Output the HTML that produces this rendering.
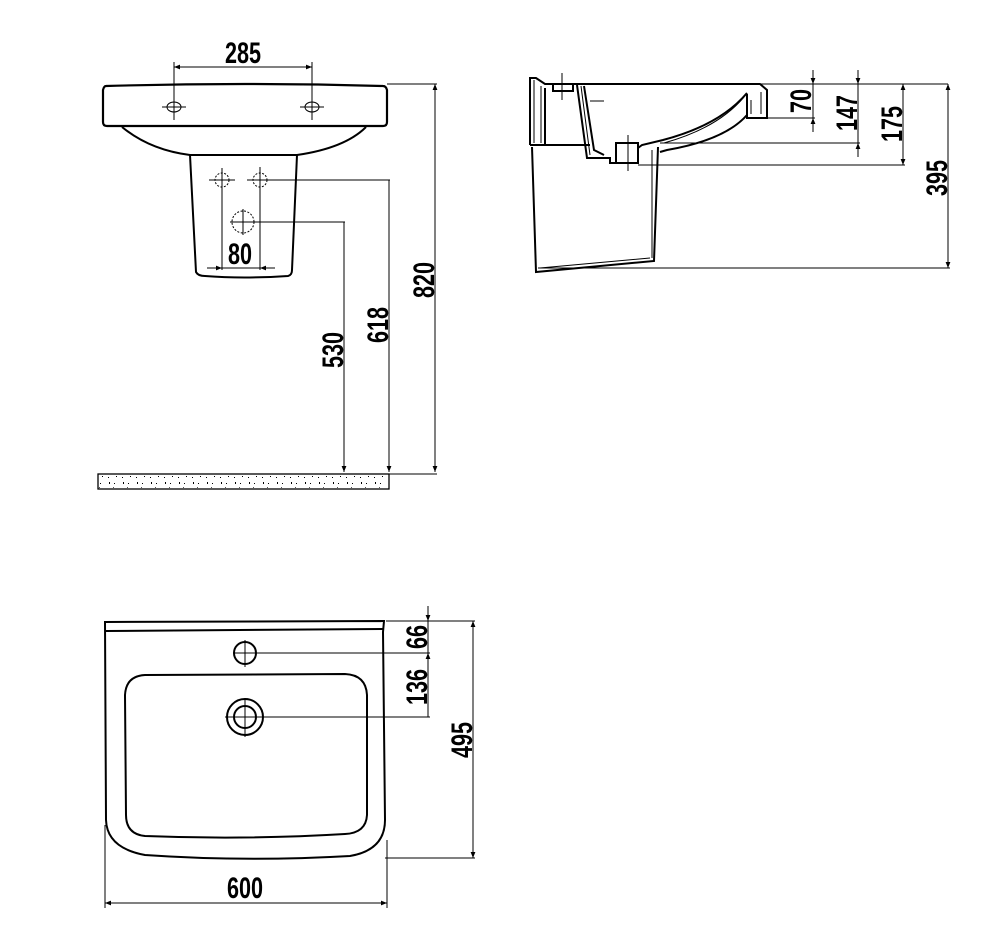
<!DOCTYPE html>
<html><head><meta charset="utf-8"><style>
html,body{margin:0;padding:0;background:#fff}
svg{display:block}
text{font-family:"Liberation Sans Narrow","Liberation Sans",sans-serif;font-size:30px;font-weight:bold;fill:#000}
</style></head><body>
<svg width="998" height="948" viewBox="0 0 998 948" xmlns="http://www.w3.org/2000/svg">
<defs>
<marker id="a" viewBox="0 0 10 10" refX="10" refY="5" markerWidth="9" markerHeight="6" orient="auto-start-reverse" markerUnits="userSpaceOnUse"><path d="M0,1 L10,5 L0,9 z" fill="#000"/></marker>
<pattern id="sp" width="14" height="15" patternUnits="userSpaceOnUse">
<rect x="2" y="3" width="1" height="1" fill="#000"/><rect x="7" y="8" width="2" height="1" fill="#000"/><rect x="11" y="2" width="1" height="2" fill="#000"/><rect x="4" y="11" width="1" height="1" fill="#000"/><rect x="10" y="12" width="1" height="1" fill="#000"/><rect x="1" y="7" width="1" height="1" fill="#555"/>
</pattern>
</defs>
<g fill="none" stroke="#000">
<!-- FRONT VIEW -->
<path d="M106,86 Q104,86 103,90 L103,122 Q103,126 107,126 L383,126 Q387,126 387,122 L387,90 Q386,86 383,86 Q245,82 106,86 z" stroke-width="2.2"/>
<path d="M122,127 Q150,150 190,155 L297,155 Q345,148 366,127" stroke-width="2"/>
<path d="M190,155 L196,272 Q198,276 205,276 Q243,279 288,276 Q292,275 292,270 L297,155" stroke-width="2"/>
<g stroke-width="1">
<line x1="174" y1="62" x2="174" y2="120"/><line x1="312" y1="62" x2="312" y2="120"/>
<line x1="174" y1="67" x2="312" y2="67" marker-start="url(#a)" marker-end="url(#a)"/>
<line x1="162" y1="107" x2="186" y2="107"/><line x1="300" y1="107" x2="324" y2="107"/>
</g>
<ellipse cx="174" cy="107" rx="7" ry="5" stroke-width="1"/><ellipse cx="312" cy="107" rx="7" ry="5" stroke-width="1"/>
<g stroke-width="1" stroke-dasharray="2,1.5"><circle cx="222" cy="180" r="7"/><circle cx="260" cy="180" r="7"/><circle cx="243" cy="222" r="11"/></g>
<g stroke-width="1">
<line x1="222" y1="168" x2="222" y2="270"/><line x1="260" y1="167" x2="260" y2="270"/>
<line x1="209" y1="180" x2="235" y2="180"/><line x1="247" y1="180" x2="390" y2="180"/>
<line x1="230" y1="222" x2="345" y2="222"/><line x1="243" y1="209" x2="243" y2="235"/>
<line x1="207" y1="268" x2="222" y2="268" marker-end="url(#a)"/><line x1="275" y1="268" x2="260" y2="268" marker-end="url(#a)"/>
<line x1="222" y1="268" x2="260" y2="268"/>
<line x1="389" y1="180" x2="389" y2="472" marker-end="url(#a)"/>
<line x1="344" y1="222" x2="344" y2="472" marker-end="url(#a)"/>
<line x1="387" y1="84" x2="437" y2="84"/>
<line x1="435" y1="84" x2="435" y2="472" marker-start="url(#a)" marker-end="url(#a)"/>
<line x1="389" y1="474" x2="437" y2="474"/>
</g>
<rect x="98" y="474" width="291" height="15" stroke-width="1.3"/>
<rect x="99" y="475" width="289" height="13" fill="url(#sp)" stroke="none"/>

<!-- SIDE VIEW -->
<g stroke-width="2">
<path d="M530,145 L530,78 L536,78 L545,84 L760,84 L767,90 L767,118 L747,118 L747,94"/>
<path d="M545,145 L545,88"/>
<path d="M747,93 Q720,125 663,140 L642,145 L638,148"/>
<path d="M747,115 Q725,140 667,150 L660,152"/>
<path d="M577,85 L587,158 L610,158 L610,163 L616,163 L616,143 L638,143 L638,163 L616,163"/>
<path d="M584,86 L594,150 L604,155"/>
<path d="M530,145 L590,145"/>
<path d="M532,147 L536,272 L654,261 L658,147"/>
<path d="M553,84 L553,91 L573,91 L573,84"/>
</g>
<g stroke-width="1">
<path d="M534,80 L534,143 M541,86 L541,143 M581,86 L590,155 M761,92 L761,114 M751,100 L751,114"/>
<path d="M540,268 L650,258 M652,150 L652,258 M744,97 Q718,128 664,143"/>
<line x1="562" y1="73" x2="562" y2="100"/><line x1="628" y1="135" x2="628" y2="171"/><line x1="590" y1="101" x2="604" y2="101"/>
<line x1="760" y1="84" x2="948" y2="84"/>
<line x1="767" y1="118" x2="815" y2="118"/>
<line x1="660" y1="143" x2="860" y2="143"/>
<line x1="638" y1="165" x2="905" y2="165"/>
<line x1="538" y1="268" x2="950" y2="268"/>
<line x1="813" y1="70" x2="813" y2="84" marker-end="url(#a)"/><line x1="813" y1="132" x2="813" y2="118" marker-end="url(#a)"/><line x1="813" y1="84" x2="813" y2="118"/>
<line x1="858" y1="70" x2="858" y2="84" marker-end="url(#a)"/><line x1="858" y1="157" x2="858" y2="143" marker-end="url(#a)"/><line x1="858" y1="84" x2="858" y2="143"/>
<line x1="903" y1="84" x2="903" y2="165" marker-start="url(#a)" marker-end="url(#a)"/>
<line x1="948" y1="84" x2="948" y2="268" marker-start="url(#a)" marker-end="url(#a)"/>
</g>

<!-- TOP VIEW -->
<g stroke-width="2">
<path d="M105,622 L384,621 L383,632 L385,820 Q385,850 350,856 Q245,862 145,855 Q107,848 106,820 Z"/>
<path d="M106,631 L383,629"/>
<path d="M145,675 L345,674 Q366,675 367,695 L367,815 Q366,833 345,834 Q245,840 145,836 Q126,834 126,815 L125,695 Q126,676 145,675 Z"/>
<circle cx="245" cy="653" r="11"/>
<circle cx="245" cy="717" r="18"/><circle cx="245" cy="717" r="11"/>
</g>
<g stroke-width="1">
<line x1="245" y1="640" x2="245" y2="667"/><line x1="233" y1="653" x2="430" y2="653"/>
<line x1="245" y1="698" x2="245" y2="737"/><line x1="225" y1="717" x2="430" y2="717"/>
<line x1="386" y1="621" x2="475" y2="621"/><line x1="385" y1="858" x2="475" y2="858"/>
<line x1="428" y1="606" x2="428" y2="621" marker-end="url(#a)"/><line x1="428" y1="621" x2="428" y2="653"/>
<line x1="428" y1="668" x2="428" y2="653" marker-end="url(#a)"/><line x1="428" y1="653" x2="428" y2="717"/>
<line x1="473" y1="621" x2="473" y2="858" marker-start="url(#a)" marker-end="url(#a)"/>
<line x1="105" y1="825" x2="105" y2="908"/><line x1="387" y1="840" x2="387" y2="908"/>
<line x1="105" y1="903" x2="387" y2="903" marker-start="url(#a)" marker-end="url(#a)"/>
</g>
</g>
<g>
<text text-anchor="middle" transform="translate(243 63) scale(0.72 1)">285</text>
<text text-anchor="middle" transform="translate(240 264) scale(0.72 1)">80</text>
<text transform="translate(343 350) rotate(-90) scale(0.72 1)" text-anchor="middle">530</text>
<text transform="translate(388 325) rotate(-90) scale(0.72 1)" text-anchor="middle">618</text>
<text transform="translate(434 280) rotate(-90) scale(0.72 1)" text-anchor="middle">820</text>
<text transform="translate(811 101) rotate(-90) scale(0.72 1)" text-anchor="middle">70</text>
<text transform="translate(857 113) rotate(-90) scale(0.72 1)" text-anchor="middle">147</text>
<text transform="translate(902 124) rotate(-90) scale(0.72 1)" text-anchor="middle">175</text>
<text transform="translate(947 178) rotate(-90) scale(0.72 1)" text-anchor="middle">395</text>
<text transform="translate(427 637) rotate(-90) scale(0.72 1)" text-anchor="middle">66</text>
<text transform="translate(427 687) rotate(-90) scale(0.72 1)" text-anchor="middle">136</text>
<text transform="translate(472 740) rotate(-90) scale(0.72 1)" text-anchor="middle">495</text>
<text text-anchor="middle" transform="translate(245 898) scale(0.72 1)">600</text>
</g>
</svg>
</body></html>
